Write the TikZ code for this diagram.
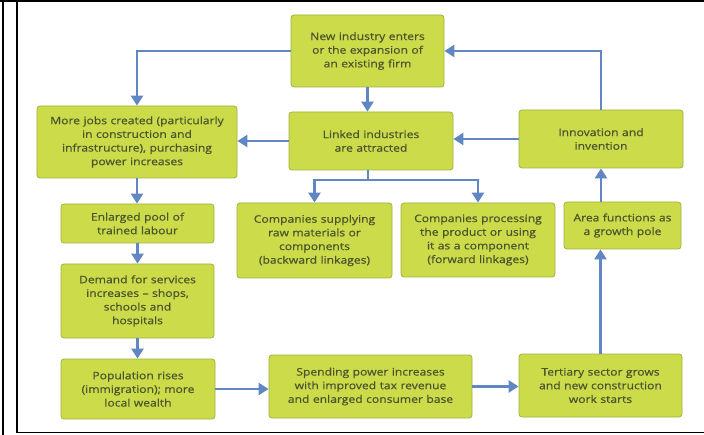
\documentclass[tikz,border=0pt]{standalone}
\usepackage{fontspec}
\setmainfont{Open Sans}[FakeStretch=1.17, FakeBold=0.6]
\usepackage{xcolor}
\usetikzlibrary{arrows.meta}
\definecolor{C0}{RGB}{96,134,196}
\definecolor{C1}{RGB}{204,219,74}
\definecolor{C2}{RGB}{160,178,60}
\definecolor{C3}{RGB}{76,84,46}

\tikzset{
  box/.style={draw=C2, fill=C1, rounded corners=3pt, line width=0.8pt,
    align=center, inner sep=2pt, text=C3,
    font=\fontsize{10.4}{13.7}\selectfont},
  link/.style={draw=C0, line width=2.6pt,
    -{Triangle[width=12pt,length=10pt]}}
}

\begin{document}
\begin{tikzpicture}[x=1bp,y=-1bp]

  \useasboundingbox (0,0) rectangle (704,435);

  % Frame.
  \draw[line width=2pt] (0,1.5) -- (704,1.5);
  \draw[line width=1.4pt] (3,0) -- (3,435);
  \draw[line width=1.4pt] (17,1.5) -- (17,432.5) -- (704,432.5);

  % Boxes, top row.
  \node[box, minimum width=153bp, minimum height=72bp, text width=149bp] (newind) at (367.5,51)
    {New industry enters\\or the expansion of\\an existing firm};
  \node[box, minimum width=200bp, minimum height=72bp, text width=196bp] (jobs) at (137,142)
    {More jobs created (particularly\\in construction and\\infrastructure), purchasing\\power increases};
  \node[box, minimum width=164bp, minimum height=58bp, text width=160bp] (linked) at (371,141)
    {Linked industries\\are attracted};
  \node[box, minimum width=164bp, minimum height=58bp, text width=160bp] (innov) at (601,139)
    {Innovation and\\invention};

  % Boxes, middle rows.
  \node[box, minimum width=153bp, minimum height=39bp, text width=149bp] (pool) at (137.5,223.5)
    {Enlarged pool of\\trained labour};
  \node[box, minimum width=155bp, minimum height=75bp, text width=151bp] (supply) at (314.5,240.5)
    {Companies supplying\\raw materials or\\components\\(backward linkages)};
  \node[box, minimum width=154bp, minimum height=74bp, text width=150bp] (process) at (478,240)
    {Companies processing\\the product or using\\it as a component\\(forward linkages)};
  \node[box, minimum width=117bp, minimum height=47bp, text width=113bp] (area) at (622.5,225.5)
    {Area functions as\\a growth pole};
  \node[box, minimum width=153bp, minimum height=74bp, text width=149bp] (demand) at (137.5,301)
    {Demand for services\\increases -- shops,\\schools and\\hospitals};

  % Boxes, bottom row.
  \node[box, minimum width=154bp, minimum height=60bp, text width=150bp] (pop) at (138,389)
    {Population rises\\(immigration); more\\local wealth};
  \node[box, minimum width=203bp, minimum height=63bp, text width=199bp] (spend) at (370.5,386.5)
    {Spending power increases\\with improved tax revenue\\and enlarged consumer base};
  \node[box, minimum width=163bp, minimum height=63bp, text width=159bp] (tert) at (600.5,385.5)
    {Tertiary sector grows\\and new construction\\work starts};

  % Arrows.
  \coordinate (split) at (368,180);
  \draw[link] (newind.west) -| (jobs.north);
  \draw[link] (newind.south) -- (linked.north -| newind.south);
  \draw[link] (linked.west) -- (linked.west -| jobs.east);
  \draw[link] (innov.west) -- (innov.west -| linked.east);
  \draw[link] (innov.north) |- (newind.east);
  \draw[draw=C0, line width=2.6pt] (linked.south -| split) -- (split);
  \draw[link] (split) -| (supply.north);
  \draw[link] (split) -| (process.north);
  \draw[link] (jobs.south) -- (pool.north -| jobs.south);
  \draw[link] (pool.south) -- (demand.north -| pool.south);
  \draw[link] (demand.south) -- (pop.north -| demand.south);
  \draw[link] (pop.east) -- (pop.east -| spend.west);
  \draw[link] (spend.east) -- (spend.east -| tert.west);
  \draw[link] (tert.north) -- (tert.north |- area.south);
  \draw[link] (innov.south |- area.north) -- (innov.south);

\end{tikzpicture}
\end{document}
